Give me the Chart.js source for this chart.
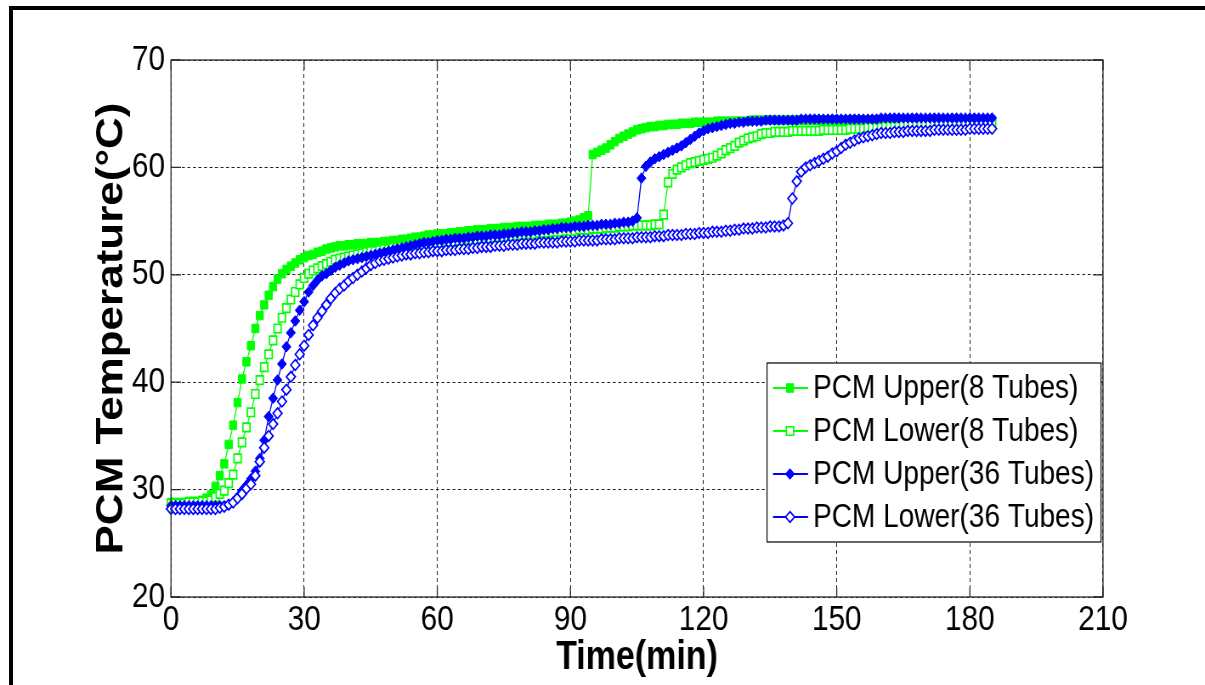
<!DOCTYPE html>
<html><head><meta charset="utf-8">
<script src="https://cdn.jsdelivr.net/npm/chart.js@4"></script>
<style>
html,body{margin:0;padding:0;background:#fff;overflow:hidden}
#wrap{position:relative;width:1205px;height:685px}
#c{position:absolute;left:0;top:0}
#frame{position:absolute;left:9px;top:6px;width:1196px;height:679px;border-top:4px solid #000;border-left:4px solid #000;box-sizing:border-box;pointer-events:none}
</style></head><body>
<div id="wrap"><canvas id="c" width="1418" height="685" style="width:1205px;height:685px"></canvas><div id="frame"></div></div>
<script>
const minutes=[0,1,2,3,4,5,6,7,8,9,10,11,12,13,14,15,16,17,18,19,20,21,22,23,24,25,26,27,28,29,30,31,32,33,34,35,36,37,38,39,40,41,42,43,44,45,46,47,48,49,50,51,52,53,54,55,56,57,58,59,60,61,62,63,64,65,66,67,68,69,70,71,72,73,74,75,76,77,78,79,80,81,82,83,84,85,86,87,88,89,90,91,92,93,94,95,96,97,98,99,100,101,102,103,104,105,106,107,108,109,110,111,112,113,114,115,116,117,118,119,120,121,122,123,124,125,126,127,128,129,130,131,132,133,134,135,136,137,138,139,140,141,142,143,144,145,146,147,148,149,150,151,152,153,154,155,156,157,158,159,160,161,162,163,164,165,166,167,168,169,170,171,172,173,174,175,176,177,178,179,180,181,182,183,184,185];
const upper8=[28.8,28.8,28.8,28.8,28.9,28.9,28.9,29.0,29.2,29.5,
30.3,31.3,32.4,34.2,36.0,38.1,40.3,41.9,43.4,45.0,
46.2,47.2,48.1,48.9,49.6,50.1,50.5,50.8,51.1,51.4,
51.6,51.8,51.9,52.1,52.2,52.4,52.5,52.6,52.7,52.7,
52.8,52.8,52.9,52.9,52.9,53.0,53.0,53.0,53.1,53.1,
53.2,53.2,53.3,53.3,53.4,53.5,53.5,53.6,53.7,53.7,
53.8,53.8,53.8,53.9,53.9,54.0,54.0,54.1,54.1,54.2,
54.2,54.2,54.3,54.3,54.3,54.4,54.4,54.4,54.5,54.5,
54.5,54.5,54.6,54.6,54.6,54.7,54.7,54.7,54.8,54.8,
54.9,55.0,55.1,55.3,55.5,61.2,61.4,61.6,61.8,62.1,
62.4,62.7,62.9,63.1,63.3,63.5,63.6,63.7,63.8,63.8,
63.9,63.9,64.0,64.0,64.0,64.1,64.1,64.1,64.2,64.2,
64.2,64.2,64.2,64.3,64.3,64.3,64.3,64.3,64.3,64.3,
64.3,64.4,64.4,64.4,64.4,64.4,64.4,64.4,64.4,64.4,
64.4,64.4,64.4,64.4,64.4,64.4,64.4,64.4,64.4,64.4,
64.4,64.4,64.4,64.4,64.4,64.4,64.4,64.4,64.4,64.4,
64.4,64.4,64.4,64.4,64.4,64.4,64.4,64.4,64.4,64.4,
64.4,64.4,64.4,64.4,64.4,64.4,64.4,64.4,64.4,64.4,
64.4,64.4,64.4,64.4,64.4,64.4];
const lower8=[28.7,28.7,28.7,28.7,28.8,28.8,28.8,28.9,28.9,29.0,
29.3,29.6,29.9,30.6,31.4,32.9,34.4,35.8,37.2,38.9,
40.2,41.4,42.6,43.9,45.0,46.0,46.9,47.7,48.4,49.1,
49.7,50.1,50.4,50.6,50.8,51.0,51.2,51.4,51.5,51.6,
51.7,51.8,51.9,52.0,52.1,52.2,52.2,52.3,52.4,52.4,
52.5,52.5,52.6,52.6,52.7,52.7,52.8,52.8,52.9,52.9,
53.0,53.0,53.1,53.1,53.1,53.2,53.2,53.3,53.3,53.3,
53.4,53.4,53.4,53.5,53.5,53.5,53.6,53.6,53.7,53.7,
53.8,53.8,53.8,53.9,53.9,53.9,54.0,54.0,54.0,54.1,
54.1,54.1,54.2,54.2,54.2,54.3,54.3,54.3,54.4,54.4,
54.4,54.5,54.5,54.5,54.6,54.6,54.6,54.6,54.6,54.7,
54.7,55.6,58.6,59.4,59.8,60.0,60.2,60.4,60.5,60.6,
60.7,60.8,60.9,61.1,61.3,61.6,61.8,62.0,62.3,62.5,
62.7,62.8,62.9,63.1,63.2,63.2,63.3,63.3,63.3,63.3,
63.4,63.4,63.4,63.4,63.4,63.4,63.4,63.5,63.5,63.5,
63.5,63.5,63.5,63.6,63.6,63.6,63.6,63.7,63.7,63.7,
63.7,63.8,63.8,63.8,63.8,63.9,63.9,63.9,63.9,64.0,
64.0,64.0,64.0,64.0,64.1,64.1,64.1,64.1,64.1,64.1,
64.1,64.1,64.1,64.1,64.1,64.1];
const upper36=[28.5,28.5,28.5,28.5,28.5,28.5,28.5,28.5,28.5,28.5,
28.5,28.5,28.5,28.6,28.8,29.3,29.9,30.4,31.0,31.7,
32.9,34.6,36.8,38.5,40.2,41.7,43.3,44.6,45.7,46.7,
47.5,48.4,49.0,49.5,49.9,50.1,50.4,50.7,50.9,51.1,
51.3,51.4,51.5,51.6,51.7,51.8,51.9,52.0,52.1,52.2,
52.3,52.4,52.5,52.6,52.7,52.8,52.9,53.0,53.0,53.1,
53.2,53.2,53.3,53.3,53.4,53.4,53.4,53.5,53.5,53.6,
53.6,53.6,53.7,53.7,53.7,53.8,53.8,53.9,53.9,54.0,
54.0,54.0,54.1,54.1,54.2,54.2,54.3,54.3,54.4,54.4,
54.4,54.5,54.5,54.5,54.6,54.6,54.6,54.7,54.7,54.7,
54.8,54.8,54.9,54.9,55.0,55.3,59.0,60.1,60.5,60.8,
61.0,61.2,61.4,61.6,61.8,62.0,62.3,62.6,62.9,63.2,
63.4,63.6,63.7,63.8,63.9,64.0,64.1,64.1,64.2,64.2,
64.3,64.3,64.3,64.3,64.4,64.4,64.4,64.4,64.4,64.4,
64.4,64.4,64.5,64.5,64.5,64.5,64.5,64.5,64.5,64.5,
64.5,64.5,64.5,64.5,64.5,64.5,64.5,64.5,64.5,64.5,
64.6,64.6,64.6,64.6,64.6,64.6,64.6,64.6,64.6,64.6,
64.6,64.6,64.6,64.6,64.6,64.6,64.6,64.6,64.6,64.6,
64.6,64.6,64.6,64.6,64.6,64.6];
const lower36=[28.2,28.2,28.2,28.2,28.2,28.2,28.2,28.2,28.2,28.2,
28.2,28.3,28.4,28.6,28.8,29.2,29.6,30.1,30.5,31.3,
32.6,33.9,35.0,36.1,37.1,38.2,39.3,40.5,41.6,42.6,
43.4,44.4,45.3,46.0,46.6,47.2,47.8,48.3,48.7,49.0,
49.4,49.7,50.0,50.3,50.6,50.9,51.1,51.3,51.4,51.5,
51.6,51.7,51.8,51.9,51.9,52.0,52.0,52.1,52.1,52.2,
52.2,52.2,52.3,52.3,52.3,52.4,52.4,52.4,52.5,52.5,
52.6,52.6,52.6,52.7,52.7,52.7,52.8,52.8,52.8,52.9,
52.9,52.9,52.9,53.0,53.0,53.0,53.0,53.0,53.1,53.1,
53.1,53.1,53.2,53.2,53.2,53.2,53.2,53.3,53.3,53.3,
53.3,53.4,53.4,53.4,53.4,53.5,53.5,53.5,53.5,53.6,
53.6,53.6,53.7,53.7,53.7,53.7,53.8,53.8,53.8,53.9,
53.9,53.9,54.0,54.0,54.0,54.1,54.1,54.2,54.2,54.3,
54.3,54.3,54.4,54.4,54.4,54.5,54.5,54.5,54.6,54.8,
57.1,58.7,59.6,60.0,60.2,60.4,60.6,60.8,61.0,61.3,
61.5,61.8,62.1,62.3,62.5,62.7,62.8,62.9,63.0,63.1,
63.2,63.2,63.2,63.3,63.3,63.3,63.4,63.4,63.4,63.4,
63.4,63.4,63.5,63.5,63.5,63.5,63.5,63.5,63.5,63.5,
63.6,63.6,63.6,63.6,63.6,63.6];
const seriesNames=['PCM Upper(8 Tubes)','PCM Lower(8 Tubes)','PCM Upper(36 Tubes)','PCM Lower(36 Tubes)'];
const xTicks=[0,30,60,90,120,150,180,210];
const yTicks=[20,30,40,50,60,70];

const S=1205/1418;            // horizontal squeeze of the canvas
const ix=v=>v/S;               // screen px -> canvas px (horizontal)
const FAM="'Liberation Sans', Arial, sans-serif";
const GREEN='#00ff00', BLUE='#0000ff';

function pts(vals){return minutes.map((t,i)=>({x:t,y:vals[i]}));}

const styles=[
 {c:GREEN,ps:'rect',r:6,fill:true,order:3},
 {c:GREEN,ps:'rect',r:6,fill:false,order:2},
 {c:BLUE,ps:'rectRot',r:5.3,fill:true,order:1},
 {c:BLUE,ps:'rectRot',r:5.3,fill:false,order:0}
];
const allVals=[upper8,lower8,upper36,lower36];
const datasets=allVals.map((v,i)=>({
  label:seriesNames[i],
  data:pts(v),
  borderColor:styles[i].c,
  borderWidth:1.3,
  pointStyle:styles[i].ps,
  pointRadius:styles[i].r,
  pointBackgroundColor:styles[i].fill?styles[i].c:'#ffffff',
  pointBorderColor:styles[i].c,
  pointBorderWidth:styles[i].fill?1:1.7,
  tension:0,
  order:styles[i].order,
  clip:12
}));

const deco={
  id:'deco',
  afterDraw(chart){
    const {ctx,chartArea:a,scales:{x,y}}=chart;
    ctx.save();
    ctx.setLineDash([]);
    ctx.strokeStyle='#2a2a2a';ctx.lineWidth=1.3;
    ctx.strokeRect(a.left,a.top,a.right-a.left,a.bottom-a.top);
    ctx.beginPath();
    const tl=10, tlx=ix(10);
    xTicks.forEach(v=>{const p=x.getPixelForValue(v);ctx.moveTo(p,a.bottom);ctx.lineTo(p,a.bottom-tl);ctx.moveTo(p,a.top);ctx.lineTo(p,a.top+tl);});
    yTicks.forEach(v=>{const p=y.getPixelForValue(v);ctx.moveTo(a.left,p);ctx.lineTo(a.left+tlx,p);ctx.moveTo(a.right,p);ctx.lineTo(a.right-tlx,p);});
    ctx.stroke();
    // legend
    const L=ix(767),R=ix(1101),T=363,B=542;
    ctx.fillStyle='#fff';ctx.fillRect(L,T,R-L,B-T);
    ctx.strokeStyle='#000';ctx.lineWidth=1.2;ctx.strokeRect(L,T,R-L,B-T);
    const rows=[388,431,474,517];
    chart.data.datasets.forEach((d,i)=>{
      const yy=rows[i];
      ctx.strokeStyle=d.borderColor;ctx.lineWidth=1.8;
      ctx.beginPath();ctx.moveTo(ix(773),yy);ctx.lineTo(ix(808),yy);ctx.stroke();
      const cx=ix(790), r=d.pointRadius;
      ctx.beginPath();
      if(d.pointStyle==='rect'){const s=r*Math.SQRT1_2;ctx.rect(cx-s,yy-s,2*s,2*s);}
      else{ctx.moveTo(cx,yy-r);ctx.lineTo(cx+r,yy);ctx.lineTo(cx,yy+r);ctx.lineTo(cx-r,yy);ctx.closePath();}
      ctx.fillStyle=d.pointBackgroundColor;ctx.fill();
      ctx.lineWidth=d.pointBorderWidth;ctx.strokeStyle=d.pointBorderColor;ctx.stroke();
      ctx.fillStyle='#000';ctx.font='33px '+FAM;ctx.textAlign='left';ctx.textBaseline='middle';
      ctx.fillText(d.label,ix(813),yy+1);
    });
    ctx.restore();
  }
};

new Chart(document.getElementById('c'),{
  type:'line',
  data:{datasets},
  plugins:[deco],
  options:{
    responsive:false,animation:false,devicePixelRatio:1,
    layout:{padding:{left:0,right:1418-ix(1103),top:60,bottom:0}},
    plugins:{legend:{display:false},tooltip:{enabled:false},title:{display:false}},
    scales:{
      x:{type:'linear',min:0,max:210,
        afterBuildTicks(s){s.ticks=xTicks.map(v=>({value:v}));},
        afterFit(s){s.height=88;},
        ticks:{font:{family:FAM,size:35},color:'#000',padding:2,maxRotation:0,autoSkip:false},
        grid:{color:'#222',lineWidth:1,drawTicks:false},
        border:{display:false,dash:[4,3]},
        title:{display:true,text:'Time(min)',color:'#000',font:{family:FAM,size:40,weight:'bold'},padding:{top:0,bottom:3}}
      },
      y:{type:'linear',min:20,max:70,
        afterBuildTicks(s){s.ticks=yTicks.map(v=>({value:v}));},
        afterFit(s){s.width=ix(171);},
        ticks:{font:{family:FAM,size:35},color:'#000',padding:7},
        grid:{color:'#222',lineWidth:1,drawTicks:false},
        border:{display:false,dash:[3.5,3]},
        title:{display:true,text:'PCM Temperature(°C)',color:'#000',font:{family:FAM,size:44,weight:'bold'},padding:{top:105,bottom:0}}
      }
    }
  }
});
</script>
</body></html>
